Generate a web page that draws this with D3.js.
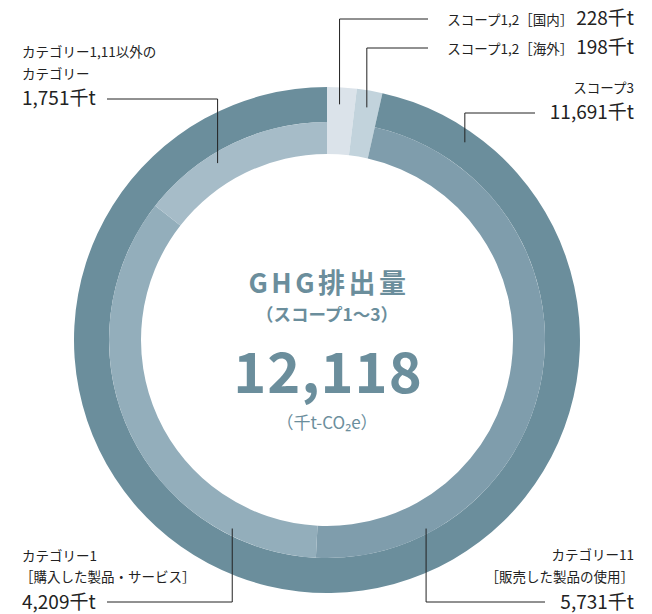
<!DOCTYPE html>
<html>
<head>
<meta charset="utf-8">
<script src="https://cdn.jsdelivr.net/npm/d3@7"></script>
<style>
  body { margin: 0; background: #fff; }
  svg { display: block; font-family: "Noto Sans CJK JP", "Noto Sans", sans-serif; }
</style>
</head>
<body>
<div class="donut_area"></div>
<script>
// scope totals (千t-CO2e)
var scopeNames = ["スコープ1,2［国内］", "スコープ1,2［海外］", "スコープ3"];
var scopeValues = [228, 198, 11691];
var scopeColors = ["#dbe3ea", "#c2d3dc", "#6b8e9c"];

// scope 3 breakdown
var catNames = ["カテゴリー11［販売した製品の使用］", "カテゴリー1［購入した製品・サービス］", "カテゴリー1,11以外のカテゴリー"];
var catValues = [5731, 4209, 1751];
var catColors = ["#7f9dac", "#93aebb", "#a6bcc8"];

var total = 12118;

var width = 652, height = 614,
    cx = 327, cy = 340,
    rOuter = 253, rMid = 218, rInner = 186;

var svg = d3.select(".donut_area").append("svg")
    .attr("width", width)
    .attr("height", height);

var g = svg.append("g")
    .attr("transform", "translate(" + cx + "," + cy + ")");

var pie = d3.pie().sort(null).value(function(d) { return d; });
var scopeArcs = pie(scopeValues);

var s3 = scopeArcs[2];
var catArcs = d3.pie().sort(null).value(function(d) { return d; })
    .startAngle(s3.startAngle).endAngle(s3.endAngle)(catValues);

var arc = d3.arc();

// scope 1,2 slices: full thickness; scope 3: outer band only
g.selectAll(".scope")
  .data(scopeArcs)
  .enter()
  .append("path")
    .attr("class", "scope")
    .attr("d", function(d, i) {
        return arc({innerRadius: i < 2 ? rInner : rMid, outerRadius: rOuter,
                    startAngle: d.startAngle, endAngle: d.endAngle});
    })
    .attr("fill", function(d, i) { return scopeColors[i]; });

g.selectAll(".cat")
  .data(catArcs)
  .enter()
  .append("path")
    .attr("class", "cat")
    .attr("d", function(d) {
        return arc({innerRadius: rInner, outerRadius: rMid,
                    startAngle: d.startAngle, endAngle: d.endAngle});
    })
    .attr("fill", function(d, i) { return catColors[i]; });

// center text
var c = "#6b8e9c";
g.append("text").attr("x", 2).attr("y", -47).attr("text-anchor", "middle")
  .attr("font-size", 27).attr("font-weight", "bold").attr("letter-spacing", 3.5)
  .attr("fill", c).text("GHG排出量");
g.append("text").attr("x", 0).attr("y", -19).attr("text-anchor", "middle")
  .attr("font-size", 17.5).attr("font-weight", "bold")
  .attr("fill", c).text("（スコープ1〜3）");
g.append("text").attr("x", 1).attr("y", 53).attr("text-anchor", "middle")
  .attr("font-size", 56).attr("font-weight", "bold").attr("letter-spacing", 1)
  .attr("fill", c).text(d3.format(",")(total));
g.append("text").attr("x", 0).attr("y", 89).attr("text-anchor", "middle")
  .attr("font-size", 17).attr("fill", c).text("（千t-CO₂e）");

// leader lines: anchor on slice (fraction t along slice, radius r) -> elbow -> label end
function anchor(d, t, r) {
    var a = d.startAngle + t * (d.endAngle - d.startAngle);
    return [cx + r * Math.sin(a), cy - r * Math.cos(a)];
}

var fmt = d3.format(",");
var ink = "#222";

var leaders = [
    {slice: scopeArcs[0], t: 0.45, r: 236, y: 19, x2: 428},
    {slice: scopeArcs[1], t: 0.5, r: 236, y: 48, x2: 428},
    {slice: scopeArcs[2], t: 0.064, r: 241, y: 113, x2: 535},
    {slice: catArcs[0], t: 0.82, r: 213, y: 602, x2: 545},
    {slice: catArcs[1], t: 0.19, r: 211, y: 602, x2: 107},
    {slice: catArcs[2], t: 0.39, r: 208, y: 99, x2: 107}
];

svg.selectAll(".leader")
  .data(leaders)
  .enter()
  .append("polyline")
    .attr("class", "leader")
    .attr("points", function(d) {
        var p = anchor(d.slice, d.t, d.r);
        return [p, [p[0], d.y], [d.x2, d.y]].map(function(q) { return q.join(","); }).join(" ");
    })
    .attr("fill", "none")
    .attr("stroke", ink)
    .attr("stroke-width", 1);

function label(x, y, anchorPos, parts) {
    var t = svg.append("text").attr("x", x).attr("y", y)
        .attr("text-anchor", anchorPos).attr("fill", ink);
    parts.forEach(function(p) {
        t.append("tspan").attr("font-size", p[1]).text(p[0]);
    });
    return t;
}

var small = 13.5, big = 19;

// top right
label(634, 25, "end", [[scopeNames[0] + " ", small], [fmt(scopeValues[0]) + "千t", big]]);
label(634, 54, "end", [[scopeNames[1] + " ", small], [fmt(scopeValues[1]) + "千t", big]]);
label(634, 93, "end", [[scopeNames[2], small]]);
label(634, 119, "end", [[fmt(scopeValues[2]) + "千t", big]]);

// top left
label(22, 57, "start", [["カテゴリー1,11以外の", small]]);
label(22, 79, "start", [["カテゴリー", small]]);
label(22, 105, "start", [[fmt(catValues[2]) + "千t", big]]);

// bottom left
label(22, 561, "start", [["カテゴリー1", small]]);
label(20, 582, "start", [["［購入した製品・サービス］", small]]);
label(22, 609, "start", [[fmt(catValues[1]) + "千t", big]]);

// bottom right
label(634, 560, "end", [["カテゴリー11", small]]);
label(634, 582, "end", [["［販売した製品の使用］", small]]);
label(634, 609, "end", [[fmt(catValues[0]) + "千t", big]]);
</script>
</body>
</html>
